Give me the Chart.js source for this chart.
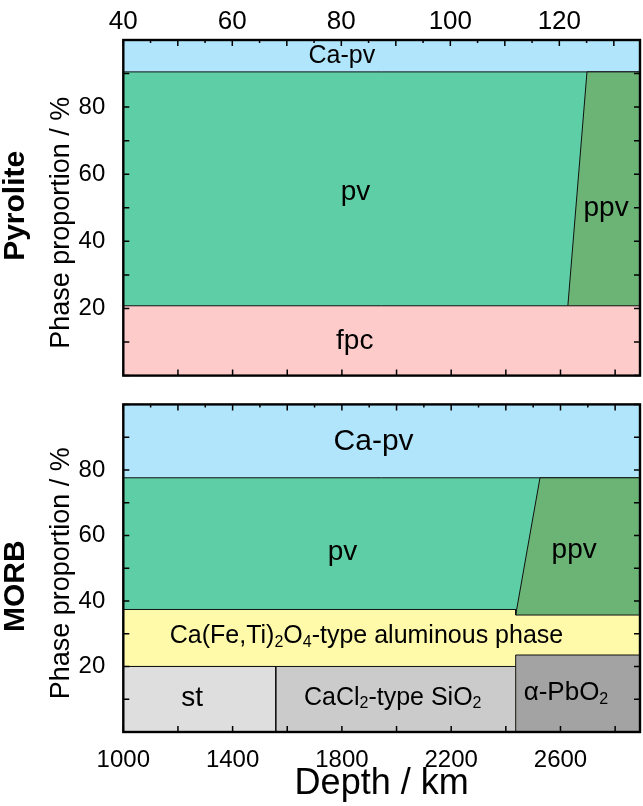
<!DOCTYPE html>
<html>
<head>
<meta charset="utf-8">
<title>Phase proportions: Pyrolite / MORB</title>
<script src="https://cdn.jsdelivr.net/npm/chart.js@4.4.1/dist/chart.umd.min.js"></script>
<style>
  html, body { margin: 0; padding: 0; background: #fff; }
  #page { position: relative; width: 643px; height: 806px; overflow: hidden; }
  canvas { position: absolute; left: 0; }
  #pyrolite { top: 0; }
  #morb { top: 380px; }
</style>
</head>
<body>
<div id="page">
  <canvas id="pyrolite" width="643" height="400"></canvas>
  <canvas id="morb" width="643" height="426"></canvas>
</div>
<script>
// --- DATA --- //

// axes: depth (km, bottom) and pressure (GPa, top)
const depthRange = [1000, 2891];
const pressureRange = [40, 134.8];
const depthTicks = [1000, 1400, 1800, 2200, 2600];
const pressureTicks = [40, 60, 80, 100, 120];
const proportionTicks = [20, 40, 60, 80];

// Pyrolite: upper boundary (%) of each phase field vs depth
const pyrCaPvDepth = [1000, 2891];
const pyrCaPvTop = [100, 100];
const pyrPvDepth = [1000, 2891];
const pyrPvTop = [90.5, 90.5];
const pyrPpvDepth = [2627, 2697, 2891];
const pyrPpvTop = [20.8, 90.5, 90.5];
const pyrFpcDepth = [1000, 2891];
const pyrFpcTop = [20.8, 20.8];

// MORB
const morbCaPvDepth = [1000, 2891];
const morbCaPvTop = [100, 100];
const morbPvDepth = [1000, 2891];
const morbPvTop = [77.6, 77.6];
const morbPpvDepth = [2436, 2525, 2891];
const morbPpvTop = [35.7, 77.6, 77.6];
const morbAlDepth = [1000, 2436, 2436, 2891];
const morbAlTop = [37.4, 37.4, 35.7, 35.7];
const morbCaCl2Depth = [1000, 2436];
const morbCaCl2Top = [20, 20];
const morbStDepth = [1000, 1558, 1558];
const morbStTop = [20, 20, 0];
const morbPbO2Depth = [2436, 2436, 2891];
const morbPbO2Top = [0, 23.5, 23.5];

// field names: [text, depth, proportion]  ("_n" = subscript)
const pyrLabels = [
    ['Ca-pv', 1800, 95.2],
    ['pv', 1850, 54.7],
    ['ppv', 2767, 50],
    ['fpc', 1847, 10.3]
];
const morbLabels = [
    ['Ca-pv', 1916, 88.6],
    ['pv', 1802, 54.9],
    ['ppv', 2650, 55.5],
    ['Ca(Fe,Ti)_2O_4-type aluminous phase', 1890, 29.2],
    ['st', 1252, 10.4],
    ['CaCl_2-type SiO_2', 1986, 10.4],
    ['α-PbO_2', 2620, 11.9]
];

// --- ESTILO --- //

const FONT = "'Liberation Sans', Arial, Helvetica, sans-serif";
const colors = {
    caPv: '#b0e5fc',
    pv: '#5ecea6',
    ppv: '#6bb476',
    fpc: '#fecbcb',
    al: '#fff9aa',
    st: '#dedede',
    cacl2: '#cbcbcb',
    pbo2: '#a3a3a3',
    line: '#111111'
};
const pyrLabelSize = [25, 28, 28, 28];
const morbLabelSize = [30, 28, 28, 25, 28, 25, 26];

Chart.defaults.font.family = FONT;
Chart.defaults.color = '#000';

// campo de fase: rellena desde su borde superior hasta 0
function field(depths, tops, color) {
    return {
        data: depths.map((d, i) => ({ x: d, y: tops[i] })),
        backgroundColor: color,
        borderColor: colors.line,
        borderWidth: 1,
        fill: 'origin',
        pointRadius: 0,
        tension: 0
    };
}

// texto con subíndices "_n"
function drawRich(ctx, str, x, y, size) {
    const parts = str.split(/_(\d)/);
    const fN = `${size}px ${FONT}`;
    const fS = `${Math.round(size * 0.62)}px ${FONT}`;
    let w = 0;
    parts.forEach((p, i) => { ctx.font = i % 2 ? fS : fN; w += ctx.measureText(p).width; });
    let cx = x - w / 2;
    parts.forEach((p, i) => {
        ctx.font = i % 2 ? fS : fN;
        ctx.fillText(p, cx, i % 2 ? y + size * 0.24 : y);
        cx += ctx.measureText(p).width;
    });
}

// Plugin: nombres de fases sobre los campos
const fieldNames = {
    id: 'fieldNames',
    afterDatasetsDraw(chart, args, opts) {
        const { ctx, scales: { x, y } } = chart;
        ctx.save();
        ctx.fillStyle = '#000';
        ctx.textAlign = 'left';
        ctx.textBaseline = 'middle';
        opts.labels.forEach((l, i) => {
            drawRich(ctx, l[0], x.getPixelForValue(l[1]), y.getPixelForValue(l[2]), opts.sizes[i]);
        });
        ctx.restore();
    }
};

// Plugin: marco y marcas hacia dentro
const frameTicks = {
    id: 'frameTicks',
    afterDraw(chart, args, opts) {
        const { ctx, chartArea: a, scales } = chart;
        ctx.save();
        ctx.strokeStyle = '#000';
        ctx.lineWidth = 1.5;
        ctx.beginPath();
        const vals = (lo, hi, step) => {
            const out = [];
            for (let v = Math.ceil(lo / step) * step; v <= hi; v += step) out.push(v);
            return out;
        };
        const y = scales.y;
        vals(0, 100, 10).forEach(v => {
            const py = y.getPixelForValue(v);
            ctx.moveTo(a.left, py); ctx.lineTo(a.left + 6, py);
            ctx.moveTo(a.right, py); ctx.lineTo(a.right - 6, py);
        });
        opts.top.forEach(t => {
            const s = scales[t.axis];
            vals(s.min, s.max, t.step).forEach(v => {
                const px = s.getPixelForValue(v);
                ctx.moveTo(px, a.top); ctx.lineTo(px, a.top + t.len);
            });
        });
        opts.bottom.forEach(t => {
            const s = scales[t.axis];
            vals(s.min, s.max, t.step).forEach(v => {
                const px = s.getPixelForValue(v);
                ctx.moveTo(px, a.bottom); ctx.lineTo(px, a.bottom - t.len);
            });
        });
        ctx.stroke();
        ctx.lineWidth = 2.4;
        ctx.strokeRect(a.left, a.top, a.right - a.left, a.bottom - a.top);
        ctx.restore();
    }
};

// Plugin: textos verticales (composición en negrita + título del eje y)
const sideTitles = {
    id: 'sideTitles',
    afterDraw(chart, args, opts) {
        const { ctx, chartArea: a } = chart;
        const mid = (a.top + a.bottom) / 2;
        const vtext = (text, x, y, font) => {
            ctx.save();
            ctx.translate(x, y);
            ctx.rotate(-Math.PI / 2);
            ctx.font = font;
            ctx.fillStyle = '#000';
            ctx.textAlign = 'center';
            ctx.textBaseline = 'middle';
            ctx.fillText(text, 0, 0);
            ctx.restore();
        };
        vtext(opts.name, 16, mid + opts.nameShift, `bold 30px ${FONT}`);
        vtext('Phase proportion / %', 62, mid + opts.titleShift, `27px ${FONT}`);
    }
};

const hidden = { grid: { display: false }, border: { display: false } };

function yScale() {
    return {
        ...hidden,
        min: 0, max: 100,
        afterBuildTicks: s => { s.ticks = proportionTicks.map(v => ({ value: v })); },
        ticks: { padding: 10, font: { size: 24 } },
        afterFit: s => { s.width = 123.3; }
    };
}

function baseOptions() {
    return {
        responsive: false,
        animation: false,
        layout: { padding: { right: 3 } },
        plugins: { legend: { display: false }, tooltip: { enabled: false } }
    };
}

// --- GRÁFICOS --- //

const pyrOpts = baseOptions();
pyrOpts.scales = {
    x: {
        ...hidden, type: 'linear', position: 'bottom', min: depthRange[0], max: depthRange[1],
        ticks: { display: false },
        afterFit: s => { s.height = 24; }
    },
    xp: {
        ...hidden, type: 'linear', position: 'top', min: pressureRange[0], max: pressureRange[1],
        afterBuildTicks: s => { s.ticks = pressureTicks.map(v => ({ value: v })); },
        ticks: { padding: -5, font: { size: 26 }, callback: v => String(v) },
        afterFit: s => { s.height = 40; }
    },
    y: yScale()
};
pyrOpts.plugins.fieldNames = { labels: pyrLabels, sizes: pyrLabelSize };
pyrOpts.plugins.frameTicks = {
    top: [{ axis: 'xp', step: 10, len: 6 }, { axis: 'xp', step: 5, len: 3 }],
    bottom: [{ axis: 'x', step: 200, len: 6 }]
};
pyrOpts.plugins.sideTitles = { name: 'Pyrolite', nameShift: -2, titleShift: 15 };

new Chart(document.getElementById('pyrolite'), {
    type: 'line',
    data: {
        datasets: [
            field(pyrFpcDepth, pyrFpcTop, colors.fpc),
            field(pyrPpvDepth, pyrPpvTop, colors.ppv),
            field(pyrPvDepth, pyrPvTop, colors.pv),
            field(pyrCaPvDepth, pyrCaPvTop, colors.caPv)
        ]
    },
    options: pyrOpts,
    plugins: [fieldNames, frameTicks, sideTitles]
});

const morbOpts = baseOptions();
morbOpts.scales = {
    x: {
        ...hidden, type: 'linear', position: 'bottom', min: depthRange[0], max: depthRange[1],
        afterBuildTicks: s => { s.ticks = depthTicks.map(v => ({ value: v })); },
        ticks: { padding: 6, font: { size: 24 }, callback: v => String(v) },
        title: { display: true, text: 'Depth / km', font: { size: 36 }, padding: { top: 0, bottom: 0 } },
        afterFit: s => { s.height = 74; }
    },
    xt: {
        ...hidden, type: 'linear', position: 'top', min: depthRange[0], max: depthRange[1],
        ticks: { display: false },
        afterFit: s => { s.height = 16.7; }
    },
    y: yScale()
};
morbOpts.plugins.fieldNames = { labels: morbLabels, sizes: morbLabelSize };
morbOpts.plugins.frameTicks = {
    top: [{ axis: 'xt', step: 200, len: 6 }, { axis: 'xt', step: 100, len: 3 }],
    bottom: [{ axis: 'x', step: 200, len: 6 }]
};
morbOpts.plugins.sideTitles = { name: 'MORB', nameShift: 18, titleShift: 5 };

new Chart(document.getElementById('morb'), {
    type: 'line',
    data: {
        datasets: [
            field(morbPbO2Depth, morbPbO2Top, colors.pbo2),
            field(morbStDepth, morbStTop, colors.st),
            field(morbCaCl2Depth, morbCaCl2Top, colors.cacl2),
            field(morbAlDepth, morbAlTop, colors.al),
            field(morbPpvDepth, morbPpvTop, colors.ppv),
            field(morbPvDepth, morbPvTop, colors.pv),
            field(morbCaPvDepth, morbCaPvTop, colors.caPv)
        ]
    },
    options: morbOpts,
    plugins: [fieldNames, frameTicks, sideTitles]
});
</script>
</body>
</html>
